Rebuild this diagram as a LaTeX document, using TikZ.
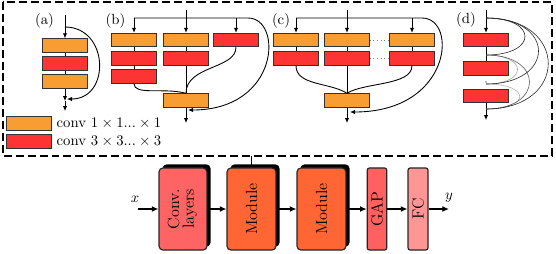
\documentclass[tikz,border=0pt]{standalone}
\usepackage{amsmath,amssymb}
\usepackage{xcolor}
\usepackage{tikz}
\usetikzlibrary{positioning, arrows.meta, calc, shadows}

\definecolor{orangeone}{RGB}{247,157,50}
\definecolor{redthree}{RGB}{252,52,52}
\definecolor{convlayer}{RGB}{255,100,100}
\definecolor{modulefill}{RGB}{255,102,51}
\definecolor{gapfill}{RGB}{255,96,96}
\definecolor{fcfill}{RGB}{255,150,150}

\begin{document}
\begin{tikzpicture}[
  x=0.68pt, y=0.68pt,
  convbox/.style={draw=black!80, line width=0.6pt, minimum width=30.6pt,
                  minimum height=9.2pt, inner sep=0pt},
  convone/.style={convbox, fill=orangeone},
  convthree/.style={convbox, fill=redthree},
  arrow/.style={-{Latex[length=3.4pt, width=3pt]}, line width=0.6pt},
  link/.style={line width=0.6pt},
  denselink/.style={line width=0.4pt},
  layerbox/.style={draw=black!85, line width=0.8pt, rounded corners=2.7pt,
                   minimum height=55.8pt, inner sep=1pt, font=\fontsize{11}{12}\selectfont},
  shadowbox/.style={layerbox, general shadow={fill=black, shadow xshift=2.4pt, shadow yshift=2.4pt}},
  flow/.style={-{Latex[length=4.5pt, width=4pt]}, line width=0.8pt},
  dashframe/.style={dash pattern=on 5.4pt off 2.7pt, line width=1.3pt},
]
\useasboundingbox (0,0) rectangle (556,-253);

\node (alabel) at (44.5,-21) {(a)};
\node[convone] (a1) at (65,-45.5) {};
\node[convthree] (a2) at (65,-63.5) {};
\node[convone] (a3) at (65,-81.5) {};
\coordinate (ain) at (65,-15);
\coordinate (askip) at (65,-27);
\coordinate (asum) at (65,-101);
\coordinate (askipend) at (67,-99);
\coordinate (aout) at (65,-111);
\draw[arrow] (ain) -- (a1);
\draw[link] (a1) -- (a2) (a2) -- (a3);
\draw[arrow] (a3) -- (asum);
\draw[arrow] (askip) .. controls +(44,0) and +(44,0) .. (askipend);
\draw[arrow] (asum) -- (aout);

\node[convone] (legone) at (28.5,-123.5) {};
\node[convthree] (legthree) at (28.5,-141.5) {};
\node[right=0pt of legone] (legonetext) {conv $1 \times 1... \times 1$};
\node[right=0pt of legthree] (legthreetext) {conv $3 \times 3... \times 3$};

\node (blabel) at (115.5,-21) {(b)};
\node[convone] (b11) at (134,-40) {};
\node[convthree] (b12) at (134,-58.5) {};
\node[convthree] (b13) at (134,-76.5) {};
\node[convone] (b21) at (186,-40) {};
\node[convthree] (b22) at (186,-58.5) {};
\node[convthree] (b31) at (236,-40) {};
\node[convone] (b4) at (186,-100.5) {};
\coordinate (bin) at (186,-10);
\coordinate (bleft) at (134,-18);
\coordinate (bright) at (236,-18);
\coordinate (bturn) at (248,-18);
\coordinate (bskipend) at (188,-110);
\coordinate (bout) at (186,-123);
\draw[arrow] (bin) -- (b21);
\draw[arrow] (bleft) -- (b11);
\draw[arrow] (bright) -- (b31);
\draw[arrow] (bleft) -- (bturn) .. controls (283,-18) and (280,-110) .. (bskipend);
\draw[link] (b11) -- (b12) (b12) -- (b13) (b21) -- (b22) (b22) -- (b4);
\draw[link] (b13.south) .. controls +(0,-12) and +(-22,6) .. (b4.north);
\draw[link] (b31.south) .. controls +(0,-22) and +(0,28) .. (b4.north);
\draw[arrow] (b4) -- (bout);

\node (clabel) at (281,-21) {(c)};
\node[convone] (c11) at (296,-40) {};
\node[convthree] (c12) at (296,-58.5) {};
\node[convone] (c21) at (347,-40) {};
\node[convthree] (c22) at (347,-58.5) {};
\node[convone] (c31) at (412,-40) {};
\node[convthree] (c32) at (412,-58.5) {};
\node[convone] (c4) at (347,-100.5) {};
\coordinate (cin) at (347,-10);
\coordinate (cleft) at (296,-18);
\coordinate (cright) at (412,-18);
\coordinate (cturn) at (422,-18);
\coordinate (cskipend) at (350,-112);
\coordinate (cout) at (347,-123);
\draw[arrow] (cin) -- (c21);
\draw[arrow] (cleft) -- (c11);
\draw[arrow] (cright) -- (c31);
\draw[arrow] (cleft) -- (cturn) .. controls (458,-18) and (452,-112) .. (cskipend);
\draw[link] (c11) -- (c12) (c21) -- (c22) (c31) -- (c32) (c22) -- (c4);
\draw[dotted, gray] (c21) -- (c31) (c22) -- (c32);
\draw[link] (c12.south) .. controls +(0,-20) and +(-17,11) .. (c4.north);
\draw[link] (c32.south) .. controls +(0,-20) and +(17,11) .. (c4.north);
\draw[arrow] (c4) -- (cout);

\node (dlabel) at (466,-20) {(d)};
\node[convthree] (d1) at (486,-40) {};
\node[convthree] (d2) at (486,-68.5) {};
\node[convthree] (d3) at (486,-96) {};
\node[circle, fill=gray, inner sep=0.4pt] (ddot) at (486,-82) {};
\coordinate (din) at (486,-10);
\coordinate (dout) at (486,-120);
\coordinate (dp0) at (486,-18);
\coordinate (dp1) at (486,-55);
\coordinate (dp2) at (486,-84);
\coordinate (dp3) at (486,-109);
\draw[arrow] (din) -- (d1);
\draw[link] (d1) -- (d2);
\draw[arrow] (d3) -- (dout);
\draw[denselink, gray!70] (dp1) .. controls +(42,0) and +(42,0) .. (dp2);
\draw[denselink, gray!60] (dp2) .. controls +(45,0) and +(45,0) .. (dp3);
\draw[denselink, black!65] (dp1) .. controls +(58,0) and +(58,0) .. (dp3);
\draw[denselink, black!85] (dp0) .. controls +(52,0) and +(52,0) .. (dp1);
\draw[denselink, black!85] (dp0) .. controls +(70,0) and +(70,0) .. (dp2);
\draw[denselink, black!85] (dp0) .. controls +(83,0) and +(83,0) .. (dp3);

\draw[dashframe] (3,-2) rectangle (552,-156);
\coordinate (framebottom) at (0,-156);

\node[shadowbox, fill=convlayer, minimum width=32.6pt] (convlayers) at (183,-209)
  {\rotatebox{90}{\begin{tabular}{@{}c@{}}Conv.\\[-2pt]layers\end{tabular}}};
\node[shadowbox, fill=modulefill, minimum width=33.3pt] (module1) at (251.5,-209) {\rotatebox{90}{Module}};
\node[shadowbox, fill=modulefill, minimum width=33.3pt] (module2) at (321.5,-209) {\rotatebox{90}{Module}};
\node[layerbox, fill=gapfill, minimum width=13.3pt, rounded corners=1.5pt] (gap) at (377,-209) {\rotatebox{90}{GAP}};
\node[layerbox, fill=fcfill, minimum width=13.6pt, rounded corners=1.5pt] (fc) at (418,-209) {\rotatebox{90}{FC}};
\coordinate (xin) at (138,-209);
\coordinate (yout) at (449,-209);
\node (xlabel) at (135,-199) {$x$};
\node (ylabel) at (449,-198) {$y$};
\draw[flow] (xin) -- (convlayers);
\draw[flow] (convlayers) -- (module1);
\draw[flow] (module1) -- (module2);
\draw[flow] (module2) -- (gap);
\draw[flow] (gap) -- (fc);
\draw[flow] (fc) -- (yout);
\draw[line width=0.8pt] (module1.north) -- (module1.north |- framebottom);
\end{tikzpicture}
\end{document}
